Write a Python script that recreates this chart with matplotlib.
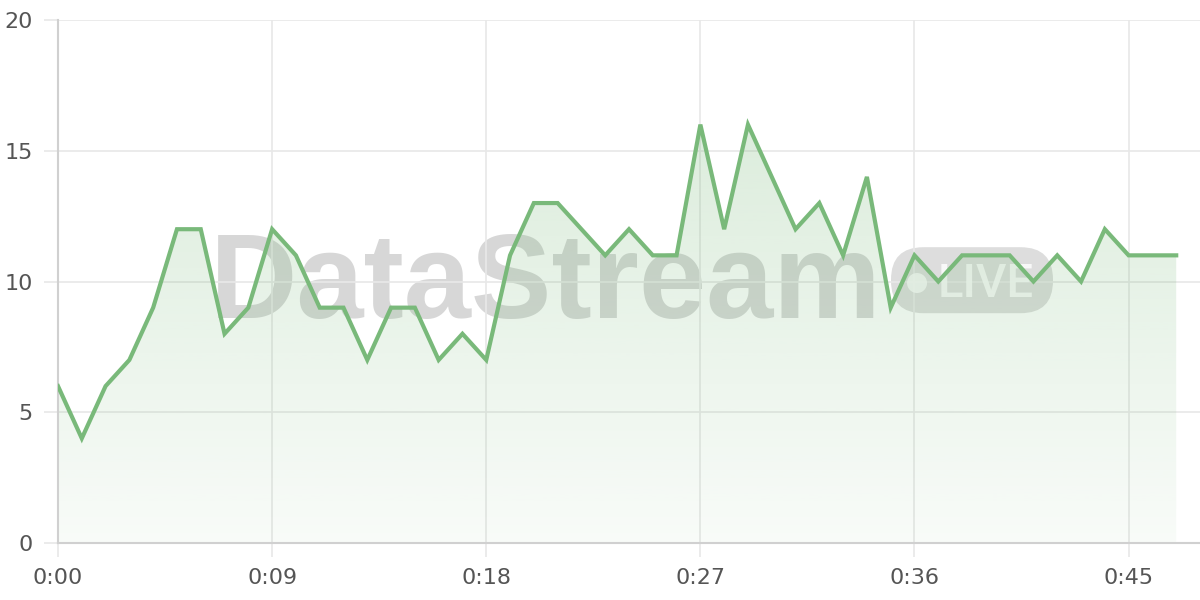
import matplotlib.pyplot as plt
import numpy as np
from matplotlib.patches import FancyBboxPatch, Ellipse

# values per tick (0:00 .. 0:47)
t = list(range(48))
values = [6, 4, 6, 7, 9, 12, 12, 8, 9, 12, 11, 9, 9, 7, 9, 9, 7, 8, 7, 11,
          13, 13, 12, 11, 12, 11, 11, 16, 12, 16, 14, 12, 13, 11, 14, 9, 11, 10, 11, 11,
          11, 10, 11, 10, 12, 11, 11, 11]
xticks = [0, 9, 18, 27, 36, 45]
xtick_labels = ["0:00", "0:09", "0:18", "0:27", "0:36", "0:45"]
yticks = [0, 5, 10, 15, 20]

green = "#79b97a"

fig = plt.figure(figsize=(12, 6), dpi=100)
ax = fig.add_axes([58 / 1200, 57 / 600, 1142 / 1200, 523 / 600])
ft = fig.transFigure

# watermark (kept under the fill)
ax.text(0.175, 0.47, "DataStream", transform=ft, fontsize=87,
        fontweight="bold", family="Liberation Sans", color="#cacaca", alpha=0.75,
        ha="left", va="baseline", zorder=0.5)
badge = FancyBboxPatch((0.7425, 0.478), 0.135, 0.11, transform=ft,
                       boxstyle="round,pad=0,rounding_size=0.0270",
                       mutation_aspect=2,
                       fc="#cfcfcf", ec="none", alpha=0.7, zorder=0.5)
ax.add_patch(badge)
dot = Ellipse((0.7642, 0.5283), 20 / 1200, 20 / 600, transform=ft,
              fc="white", ec="none", alpha=0.75, zorder=0.6)
ax.add_patch(dot)
ax.text(0.7817, 0.505, "LIVE", transform=ft, fontsize=34,
        family="Roboto", fontweight="medium", color="white", alpha=0.8,
        ha="left", va="baseline", zorder=0.6)

# gradient fill under the line
poly = ax.fill_between(t, values, 0, color="none", zorder=1)
grad = np.linspace(0.05, 0.26, 256).reshape(-1, 1)
rgba = np.zeros((256, 1, 4))
rgba[..., 0] = 121 / 255
rgba[..., 1] = 185 / 255
rgba[..., 2] = 122 / 255
rgba[..., 3] = grad
img = ax.imshow(rgba, extent=[0, t[-1], 0, max(values)], origin="lower",
                aspect="auto", zorder=1)
img.set_clip_path(poly.get_paths()[0], transform=ax.transData)
ax.set_xlim(0, 48)
ax.set_ylim(0, 20)

ax.plot(t, values, color=green, lw=3, zorder=3, solid_joinstyle="miter")

ax.set_xticks(xticks)
ax.set_xticklabels(xtick_labels)
ax.set_yticks(yticks)
ax.grid(True, color="#e8e8e8", lw=1.2, zorder=0)
ax.set_axisbelow(True)
ax.tick_params(axis="both", length=10, width=1.2, color="#e8e8e8",
               labelsize=16, labelcolor="#555555", pad=8)
for s in ["top", "right"]:
    ax.spines[s].set_visible(False)
for s in ["left", "bottom"]:
    ax.spines[s].set_color("#d0d0d0")
    ax.spines[s].set_linewidth(1.5)

fig.savefig("out.png", dpi=100)
